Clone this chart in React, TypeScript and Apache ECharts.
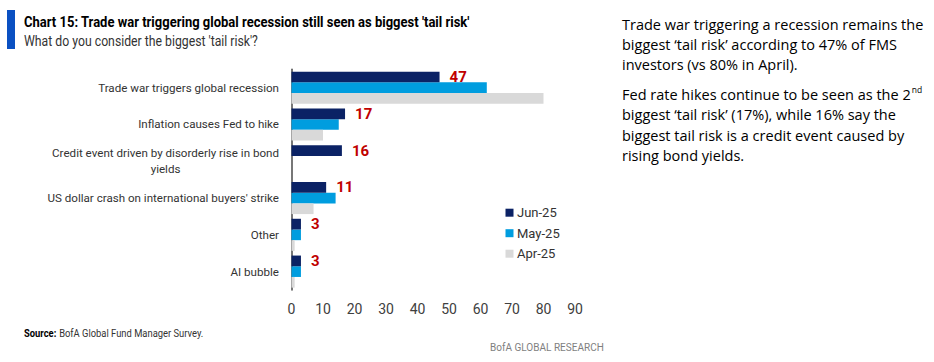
import React, { useEffect, useRef } from "react";
import * as echarts from "echarts";

const categories = [
  "Trade war triggers global recession",
  "Inflation causes Fed to hike",
  "Credit event driven by disorderly rise in bond yields",
  "US dollar crash on international buyers' strike",
  "Other",
  "AI bubble",
];
const seriesNames = ["Jun-25", "May-25", "Apr-25"];
const jun25 = [47, 17, 16, 11, 3, 3];
const may25 = [62, 15, null, 14, 3, 3];
const apr25 = [80, 10, null, 7, 1, 1];
const xTicks = [0, 10, 20, 30, 40, 50, 60, 70, 80, 90];

const titleText = "Chart 15: Trade war triggering global recession still seen as biggest 'tail risk'";
const subtitleText = "What do you consider the biggest 'tail risk'?";
const sourceBold = "Source:";
const sourceText = "BofA Global Fund Manager Survey.";
const brandText = "BofA GLOBAL RESEARCH";
const para1 = [
  "Trade war triggering a recession remains the",
  "biggest \u2018tail risk\u2019 according to 47% of FMS",
  "investors (vs 80% in April).",
];
const para2 = [
  "Fed rate hikes continue to be seen as the 2",
  "biggest \u2018tail risk\u2019 (17%), while 16% say the",
  "biggest tail risk is a credit event caused by",
  "rising bond yields.",
];

const FONT = "Roboto, 'Liberation Sans', sans-serif";
const BODY = "'Open Sans', sans-serif";
const NAVY = "#0b2265";
const BLUE = "#009ddf";
const GREY = "#d9d9d9";
const RED = "#c00000";

function measure(text: string, font: string): number {
  const ctx = document.createElement("canvas").getContext("2d")!;
  ctx.font = font;
  return ctx.measureText(text).width || 1;
}

export default function App() {
  const ref = useRef<HTMLDivElement>(null);
  useEffect(() => {
    document.body.style.margin = "0";
    const chart = echarts.init(ref.current!, null, { renderer: "svg" });

    const ySize = Math.min(14, (14 * 181) / measure(categories[0], "14px Roboto"));
    const titleScale = 446 / measure(titleText, "bold 15px Roboto");
    const subScale = 234 / measure(subtitleText, "15px Roboto");
    const srcW = measure(sourceBold + " ", "bold 11px Roboto") + measure(sourceText, "11px Roboto");
    const srcScale = 179 / srcW;
    const brandScale = 114 / measure(brandText, "11px Roboto");

    const option: any = {
      animation: false,
      backgroundColor: "#ffffff",
      grid: { left: 291.5, right: 359, top: 69.3, bottom: 72, containLabel: false, outerBoundsMode: "none" },
      legend: {
        orient: "vertical",
        left: 505.5,
        top: 205.7,
        padding: 0,
        itemWidth: 8,
        itemHeight: 8,
        itemGap: 6.5,
        icon: "rect",
        data: seriesNames,
        textStyle: { fontFamily: FONT, fontSize: 13, color: "#333", lineHeight: 14, padding: [0, 0, 0, -1.5] },
      },
      xAxis: {
        type: "value",
        min: xTicks[0],
        max: xTicks[xTicks.length - 1],
        interval: 10,
        splitLine: { show: false },
        axisLine: { show: false },
        axisTick: { show: false },
        axisLabel: { fontFamily: FONT, fontSize: 14, color: "#404040", margin: 12 },
      },
      yAxis: {
        type: "category",
        inverse: true,
        data: categories,
        axisLine: { show: true, lineStyle: { color: "#555", width: 1.6 } },
        axisTick: { show: false },
        axisLabel: {
          fontFamily: FONT,
          fontSize: ySize,
          color: "#333",
          margin: 12.5,
          formatter: (v: string) =>
            v === categories[2]
              ? "{c|Credit event driven by disorderly rise in bond}\n{c|yields}"
              : v,
          rich: {
            c: { align: "center", fontFamily: FONT, fontSize: ySize, color: "#333", lineHeight: 15.7 },
          },
        },
      },
      series: [
        {
          name: seriesNames[0],
          type: "bar",
          data: jun25,
          barWidth: 10.7,
          barGap: "0%",
          itemStyle: { color: NAVY },
          z: 3,
          label: {
            show: true,
            position: "right",
            distance: 10,
            color: RED,
            fontFamily: FONT,
            fontWeight: "bold",
            fontSize: 15,
          },
        },
        { name: seriesNames[1], type: "bar", data: may25, barWidth: 10.7, barGap: "0%", itemStyle: { color: BLUE } },
        { name: seriesNames[2], type: "bar", data: apr25, barWidth: 10.7, barGap: "0%", itemStyle: { color: GREY } },
      ],
      graphic: [
        { type: "rect", shape: { x: 7, y: 10, width: 8, height: 39 }, style: { fill: "#0a50c2" } },
        {
          type: "text",
          x: 24,
          y: 22,
          scaleX: titleScale,
          style: {
            text: titleText,
            fontFamily: FONT,
            fontWeight: "bold",
            fontSize: 15,
            fill: "#000",
            verticalAlign: "middle",
          },
        },
        {
          type: "text",
          x: 24,
          y: 40.5,
          scaleX: subScale,
          style: {
            text: subtitleText,
            fontFamily: FONT,
            fontSize: 15,
            fill: "#333",
            verticalAlign: "middle",
          },
        },
        {
          type: "text",
          x: 622,
          y: 14,
          style: {
            text: para1.join("\n"),
            fontFamily: BODY,
            fontSize: 14.5,
            lineHeight: 20.3,
            fill: "#000",
          },
        },
        {
          type: "text",
          x: 622,
          y: 84.5,
          style: {
            text:
              "{n|" + para2[0] + "}{s|nd}\n" + para2.slice(1).map((l) => "{n|" + l + "}").join("\n"),
            rich: {
              n: { fontFamily: BODY, fontSize: 14.5, lineHeight: 20.2, fill: "#000" },
              s: { fontFamily: BODY, fontSize: 8.5, lineHeight: 20.2, verticalAlign: "top", fill: "#000", padding: [0, 0, 10, 1] },
            },
          },
        },
        {
          type: "text",
          x: 24,
          y: 333,
          scaleX: srcScale,
          style: {
            text: "{b|" + sourceBold + "} {r|" + sourceText + "}",
            verticalAlign: "middle",
            rich: {
              b: { fontFamily: FONT, fontSize: 11, fontWeight: "bold", fill: "#000" },
              r: { fontFamily: FONT, fontSize: 11, fill: "#333" },
            },
          },
        },
        {
          type: "text",
          x: 490,
          y: 347,
          scaleX: brandScale,
          style: {
            text: brandText,
            fontFamily: FONT,
            fontSize: 11,
            fill: "#7f7f7f",
            verticalAlign: "middle",
          },
        },
      ],
    };
    chart.setOption(option);
    return () => chart.dispose();
  }, []);
  return (
    <div
      ref={ref}
      style={{ position: "fixed", left: 0, top: 0, width: 934, height: 362, background: "#fff" }}
    />
  );
}
